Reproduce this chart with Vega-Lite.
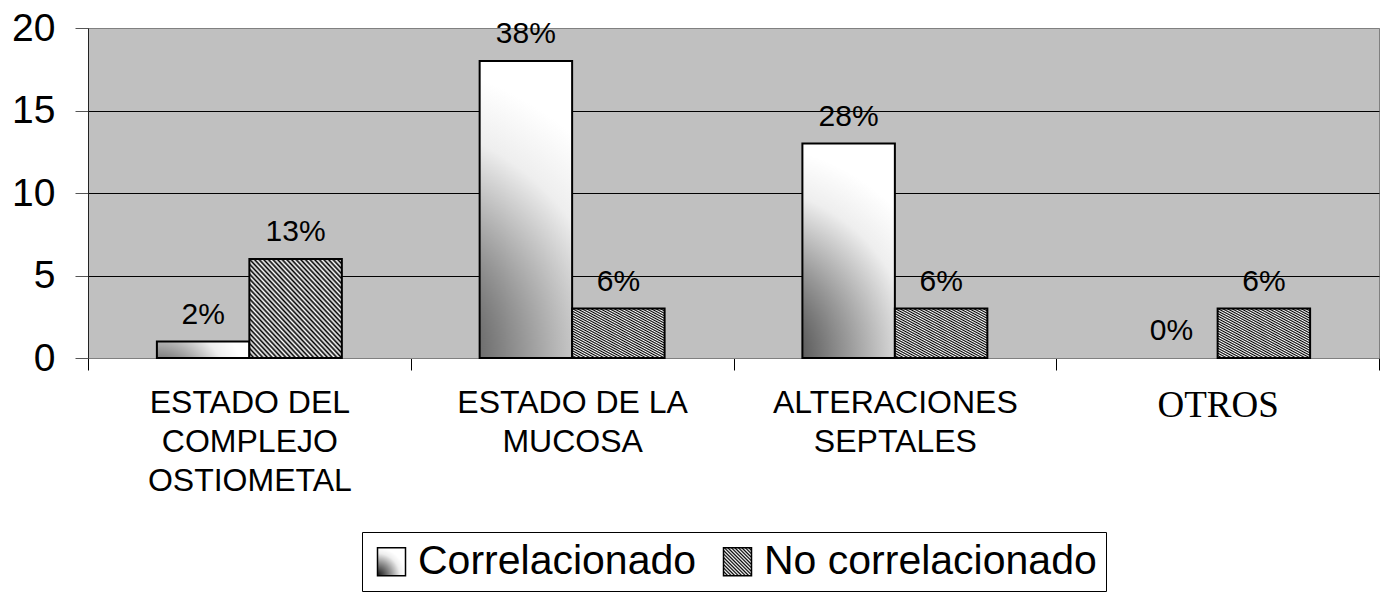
{
  "$schema": "https://vega.github.io/schema/vega-lite/v6.json",
  "autosize": "none",
  "width": 1291,
  "height": 330,
  "padding": {"left": 88, "top": 28, "right": 9, "bottom": 245},
  "background": "#ffffff",
  "params": [
    {
      "name": "cornerFill",
      "value": {
        "gradient": "radial",
        "x1": 0, "y1": 1, "r1": 0,
        "x2": 0, "y2": 1, "r2": 1,
        "stops": [
          {"offset": 0, "color": "#111111"},
          {"offset": 0.5, "color": "#999999"},
          {"offset": 0.8, "color": "#eeeeee"},
          {"offset": 1, "color": "#ffffff"}
        ]
      }
    },
    {
      "name": "hatchFill",
      "value": {
        "gradient": "linear",
        "x1": 0, "y1": 1, "x2": 1, "y2": 0,
        "stops": [
          {"offset": 0, "color": "#000000"}, {"offset": 0.0125, "color": "#ffffff"},
          {"offset": 0.025, "color": "#000000"}, {"offset": 0.0375, "color": "#ffffff"},
          {"offset": 0.05, "color": "#000000"}, {"offset": 0.0625, "color": "#ffffff"},
          {"offset": 0.075, "color": "#000000"}, {"offset": 0.0875, "color": "#ffffff"},
          {"offset": 0.1, "color": "#000000"}, {"offset": 0.1125, "color": "#ffffff"},
          {"offset": 0.125, "color": "#000000"}, {"offset": 0.1375, "color": "#ffffff"},
          {"offset": 0.15, "color": "#000000"}, {"offset": 0.1625, "color": "#ffffff"},
          {"offset": 0.175, "color": "#000000"}, {"offset": 0.1875, "color": "#ffffff"},
          {"offset": 0.2, "color": "#000000"}, {"offset": 0.2125, "color": "#ffffff"},
          {"offset": 0.225, "color": "#000000"}, {"offset": 0.2375, "color": "#ffffff"},
          {"offset": 0.25, "color": "#000000"}, {"offset": 0.2625, "color": "#ffffff"},
          {"offset": 0.275, "color": "#000000"}, {"offset": 0.2875, "color": "#ffffff"},
          {"offset": 0.3, "color": "#000000"}, {"offset": 0.3125, "color": "#ffffff"},
          {"offset": 0.325, "color": "#000000"}, {"offset": 0.3375, "color": "#ffffff"},
          {"offset": 0.35, "color": "#000000"}, {"offset": 0.3625, "color": "#ffffff"},
          {"offset": 0.375, "color": "#000000"}, {"offset": 0.3875, "color": "#ffffff"},
          {"offset": 0.4, "color": "#000000"}, {"offset": 0.4125, "color": "#ffffff"},
          {"offset": 0.425, "color": "#000000"}, {"offset": 0.4375, "color": "#ffffff"},
          {"offset": 0.45, "color": "#000000"}, {"offset": 0.4625, "color": "#ffffff"},
          {"offset": 0.475, "color": "#000000"}, {"offset": 0.4875, "color": "#ffffff"},
          {"offset": 0.5, "color": "#000000"}, {"offset": 0.5125, "color": "#ffffff"},
          {"offset": 0.525, "color": "#000000"}, {"offset": 0.5375, "color": "#ffffff"},
          {"offset": 0.55, "color": "#000000"}, {"offset": 0.5625, "color": "#ffffff"},
          {"offset": 0.575, "color": "#000000"}, {"offset": 0.5875, "color": "#ffffff"},
          {"offset": 0.6, "color": "#000000"}, {"offset": 0.6125, "color": "#ffffff"},
          {"offset": 0.625, "color": "#000000"}, {"offset": 0.6375, "color": "#ffffff"},
          {"offset": 0.65, "color": "#000000"}, {"offset": 0.6625, "color": "#ffffff"},
          {"offset": 0.675, "color": "#000000"}, {"offset": 0.6875, "color": "#ffffff"},
          {"offset": 0.7, "color": "#000000"}, {"offset": 0.7125, "color": "#ffffff"},
          {"offset": 0.725, "color": "#000000"}, {"offset": 0.7375, "color": "#ffffff"},
          {"offset": 0.75, "color": "#000000"}, {"offset": 0.7625, "color": "#ffffff"},
          {"offset": 0.775, "color": "#000000"}, {"offset": 0.7875, "color": "#ffffff"},
          {"offset": 0.8, "color": "#000000"}, {"offset": 0.8125, "color": "#ffffff"},
          {"offset": 0.825, "color": "#000000"}, {"offset": 0.8375, "color": "#ffffff"},
          {"offset": 0.85, "color": "#000000"}, {"offset": 0.8625, "color": "#ffffff"},
          {"offset": 0.875, "color": "#000000"}, {"offset": 0.8875, "color": "#ffffff"},
          {"offset": 0.9, "color": "#000000"}, {"offset": 0.9125, "color": "#ffffff"},
          {"offset": 0.925, "color": "#000000"}, {"offset": 0.9375, "color": "#ffffff"},
          {"offset": 0.95, "color": "#000000"}, {"offset": 0.9625, "color": "#ffffff"},
          {"offset": 0.975, "color": "#000000"}, {"offset": 0.9875, "color": "#ffffff"},
          {"offset": 1, "color": "#000000"}
        ]
      }
    }
  ],
  "data": {
    "values": [
      {"categoria": "ESTADO DEL COMPLEJO OSTIOMETAL", "serie": "Correlacionado", "casos": 1, "porcentaje": "2%"},
      {"categoria": "ESTADO DEL COMPLEJO OSTIOMETAL", "serie": "No correlacionado", "casos": 6, "porcentaje": "13%"},
      {"categoria": "ESTADO DE LA MUCOSA", "serie": "Correlacionado", "casos": 18, "porcentaje": "38%"},
      {"categoria": "ESTADO DE LA MUCOSA", "serie": "No correlacionado", "casos": 3, "porcentaje": "6%"},
      {"categoria": "ALTERACIONES SEPTALES", "serie": "Correlacionado", "casos": 13, "porcentaje": "28%"},
      {"categoria": "ALTERACIONES SEPTALES", "serie": "No correlacionado", "casos": 3, "porcentaje": "6%"},
      {"categoria": "OTROS", "serie": "Correlacionado", "casos": 0, "porcentaje": "0%"},
      {"categoria": "OTROS", "serie": "No correlacionado", "casos": 3, "porcentaje": "6%"}
    ]
  },
  "encoding": {
    "x": {
      "field": "categoria",
      "type": "nominal",
      "sort": null,
      "scale": {"paddingInner": 0, "paddingOuter": 0},
      "axis": {
        "title": null,
        "labelAngle": 0,
        "labelLimit": 0,
        "tickBand": "extent",
        "tickSize": 12,
        "tickColor": "#000000",
        "domainColor": "#808080",
        "labelFont": {"condition": {"test": "datum.value === 'OTROS'", "value": "Liberation Serif"}, "value": "Liberation Sans"},
        "labelFontSize": {"condition": {"test": "datum.value === 'OTROS'", "value": 37}, "value": 32},
        "labelLineHeight": 39,
        "labelColor": "#000000",
        "labelPadding": 17,
        "labelBaseline": "top",
        "labelExpr": "datum.value == 'ESTADO DEL COMPLEJO OSTIOMETAL' ? ['ESTADO DEL', 'COMPLEJO', 'OSTIOMETAL'] : datum.value == 'ESTADO DE LA MUCOSA' ? ['ESTADO DE LA', 'MUCOSA'] : datum.value == 'ALTERACIONES SEPTALES' ? ['ALTERACIONES', 'SEPTALES'] : datum.value"
      }
    },
    "xOffset": {
      "field": "serie",
      "type": "nominal",
      "sort": ["Correlacionado", "No correlacionado"],
      "scale": {"paddingInner": 0, "paddingOuter": 0.745}
    },
    "y": {
      "field": "casos",
      "type": "quantitative",
      "scale": {"domain": [0, 20], "nice": false},
      "axis": {
        "title": null,
        "values": [0, 5, 10, 15, 20],
        "grid": true,
        "gridColor": {"condition": {"test": "datum.value === 20 || datum.value === 0", "value": "#808080"}, "value": "#000000"},
        "gridWidth": 1,
        "domainColor": "#222222",
        "tickColor": "#555555",
        "tickSize": 13,
        "labelFont": "Liberation Sans",
        "labelFontSize": 39,
        "labelColor": "#000000",
        "labelPadding": 20
      }
    }
  },
  "layer": [
    {
      "mark": {"type": "bar", "stroke": "#000000", "strokeWidth": 2},
      "encoding": {
        "strokeOpacity": {"condition": {"test": "datum.casos === 0", "value": 0}, "value": 1},
        "fill": {
          "field": "serie",
          "type": "nominal",
          "sort": ["Correlacionado", "No correlacionado"],
          "scale": {"range": [{"expr": "cornerFill"}, {"expr": "hatchFill"}]},
          "legend": {
            "title": null,
            "orient": "none",
            "direction": "horizontal",
            "legendX": 274,
            "legendY": 504,
            "padding": 9,
            "strokeColor": "#000000",
            "fillColor": "#ffffff",
            "symbolType": "square",
            "symbolSize": 784,
            "symbolStrokeColor": "#000000",
            "symbolStrokeWidth": 1.5,
            "symbolOpacity": 1,
            "labelFont": "Liberation Sans",
            "labelFontSize": 41,
            "labelLimit": 0,
            "labelColor": "#000000",
            "labelOffset": 6,
            "columnPadding": 20
          }
        }
      }
    },
    {
      "mark": {"type": "text", "font": "Liberation Sans", "fontSize": 30, "color": "#000000", "baseline": "alphabetic", "dy": -18},
      "encoding": {
        "text": {"field": "porcentaje", "type": "nominal"}
      }
    }
  ],
  "config": {
    "view": {"fill": "#c0c0c0", "stroke": "#808080", "strokeWidth": 1}
  }
}
